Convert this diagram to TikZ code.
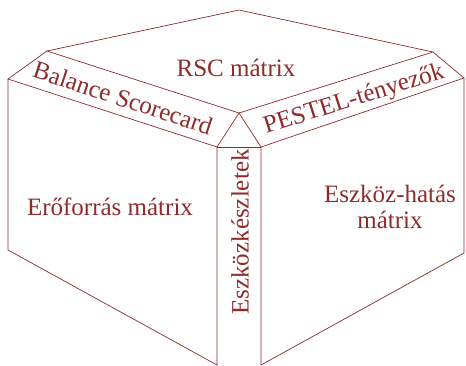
\documentclass[tikz,border=0pt]{standalone}
\usepackage{fontspec}
\setmainfont{Liberation Serif}
\usepackage{xcolor}
\usepackage{tikz}
\usetikzlibrary{positioning,calc}
\definecolor{cubered}{HTML}{8E2B2B}

\begin{document}
\begin{tikzpicture}[x=1pt,y=-1pt,
  edge/.style={draw=cubered,line width=0.7pt,line join=miter},
  lbl/.style={text=cubered,font=\fontsize{25}{26}\selectfont,align=center,inner sep=0pt}
]
\useasboundingbox (0,0) rectangle (466,365);
% corners of the cube
\coordinate (top) at (239,10);
\coordinate (tl) at (47,51);
\coordinate (tr) at (433,52);
\coordinate (mid) at (239,113);
\coordinate (ol) at (8,79);
\coordinate (or) at (464,78);
\coordinate (il) at (217,147);
\coordinate (ir) at (261,147);
\coordinate (bl) at (8,250);
\coordinate (br) at (464,253);
\coordinate (ilb) at (217,365);
\coordinate (irb) at (261,365);

\draw[edge] (tl) -- (top) -- (tr) -- (mid) -- cycle;
\draw[edge] (tl) -- (ol) -- (il) -- (mid) -- (ir) -- (or) -- (tr);
\draw[edge] (il) -- (ir);
\draw[edge] (ol) -- (bl) -- (ilb) -- (il);
\draw[edge] (or) -- (br) -- (irb) -- (ir);

\node[lbl] (rsc) at (236,68) {RSC mátrix};
\node[lbl,rotate=-18.2] (bsc) at (123,98) {Balance Scorecard};
\node[lbl,rotate=17.4] (pestel) at (354,100) {PESTEL-tényezők};
\node[lbl,rotate=90] (eszk) at (240,232) {Eszközkészletek};
\node[lbl] (ero) at (110,207) {Erőforrás mátrix};
\node[lbl] (hatas) at (390,207) {Eszköz-hatás\\mátrix};
\end{tikzpicture}
\end{document}
